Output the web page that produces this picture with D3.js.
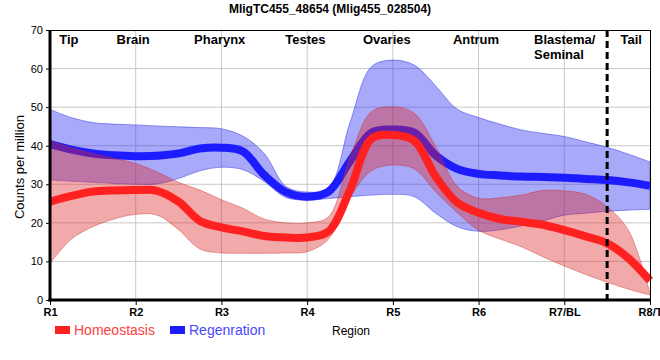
<!DOCTYPE html>
<html><head><meta charset="utf-8">
<script src="https://cdn.jsdelivr.net/npm/d3@7"></script>
<style>body{margin:0;background:#fff}svg{display:block;font-family:"Liberation Sans",Arial,sans-serif}</style>
</head><body><svg id="c" width="660" height="360"></svg>
<script>
const title = "MligTC455_48654 (Mlig455_028504)";
const regions = ["R1","R2","R3","R4","R5","R6","R7/BL","R8/T"];
const tissues = [["Tip"],["Brain"],["Pharynx"],["Testes"],["Ovaries"],["Antrum"],["Blastema/","Seminal"],["Tail"]];
const tissuePos = [1.22,1.97,2.98,3.98,4.93,5.97,6.9,7.78];
const yTicks = [0,10,20,30,40,50,60,70];
const pos = [1,1.25,1.5,1.75,2,2.25,2.5,2.75,3,3.25,3.5,3.75,4,4.25,4.5,4.75,5,5.25,5.5,5.75,6,6.25,6.5,6.75,7,7.25,7.5,7.75,8];
const regMean = [40.4,39.0,38.0,37.5,37.3,37.4,38.0,39.3,39.5,38.5,32.4,28.0,26.8,28.1,36.0,43.4,44.2,43.4,37.5,34.0,32.7,32.3,32.0,31.9,31.7,31.4,31.1,30.5,29.6];
const regUpper = [49.4,47.3,46.0,45.6,45.4,45.1,44.9,44.7,44.4,42.5,38.0,29.5,28.0,29.0,46.0,60.5,62.2,60.9,55.5,49.5,47.3,45.6,44.1,43.2,42.4,41.0,39.6,37.8,35.8];
const regLower = [31.1,30.8,30.5,30.2,30.0,30.1,31.5,33.5,34.4,33.8,30.7,26.6,25.9,26.3,26.8,27.2,27.4,26.8,22.5,19.0,17.8,18.2,19.2,20.5,22.0,22.5,23.0,23.3,23.5];
const homMean = [25.5,27.0,28.1,28.4,28.5,28.3,25.5,20.5,18.8,17.8,16.6,16.2,16.2,17.8,28.5,41.8,42.8,41.3,32.0,25.3,22.6,21.0,20.3,19.5,18.1,16.5,14.7,10.8,5.0];
const homUpper = [41.3,39.5,38.0,36.7,35.4,33.2,30.5,28.5,26.0,23.8,21.0,20.0,20.0,21.6,37.0,48.8,50.1,48.4,39.8,29.5,26.4,26.5,27.2,28.4,28.3,27.4,24.2,18.0,1.7];
const homLower = [9.5,15.8,19.0,21.0,22.2,22.0,18.2,13.2,12.2,12.1,12.1,12.2,12.5,15.8,26.5,33.5,35.0,34.0,28.0,22.7,18.1,15.8,13.8,11.2,8.8,6.6,4.6,2.8,1.3];
const legendNames = ["Homeostasis","Regenration"];

const svg = d3.select("#c");
const L=50,R=650,T=30,B=300;
const x = d3.scaleLinear().domain([1,8]).range([L,R]);
const y = d3.scaleLinear().domain([0,70]).range([B,T]);

// grid
svg.append("g").selectAll("line").data(yTicks.slice(1,-1)).join("line")
  .attr("x1",L).attr("x2",R).attr("y1",d=>y(d)).attr("y2",d=>y(d))
  .attr("stroke","#c8c8c8").attr("stroke-width",1);
svg.append("g").selectAll("line").data(d3.range(2,8)).join("line")
  .attr("x1",d=>x(d)).attr("x2",d=>x(d)).attr("y1",T).attr("y2",B)
  .attr("stroke","#c8c8c8").attr("stroke-width",1);

const curve = d3.curveCatmullRom.alpha(0.5);
function band(up,lo){return d3.area().curve(curve).x((d,i)=>x(pos[i])).y0((d,i)=>y(lo[i])).y1((d,i)=>y(up[i]))(pos);}
function line(v){return d3.line().curve(curve).x((d,i)=>x(pos[i])).y((d,i)=>y(v[i]))(pos);}

const blue="#1c1cff", red="#ff2020";
svg.append("path").attr("d",band(regUpper,regLower)).attr("fill","rgba(40,40,240,0.4)").attr("stroke","rgba(40,40,230,0.45)").attr("stroke-width",1);
svg.append("path").attr("d",line(regMean)).attr("fill","none").attr("stroke",blue).attr("stroke-width",8);
svg.append("path").attr("d",band(homUpper,homLower)).attr("fill","rgba(220,40,40,0.4)").attr("stroke","rgba(200,40,40,0.4)").attr("stroke-width",1);
svg.append("path").attr("d",line(homMean)).attr("fill","none").attr("stroke",red).attr("stroke-width",8);

// frame
svg.append("line").attr("x1",L).attr("x2",R).attr("y1",T+0.5).attr("y2",T+0.5).attr("stroke","#000");
svg.append("line").attr("x1",R+0.5).attr("x2",R+0.5).attr("y1",T).attr("y2",B).attr("stroke","#000");
// dashed divider
svg.append("line").attr("x1",x(7.5)).attr("x2",x(7.5)).attr("y1",T).attr("y2",B+5)
  .attr("stroke","#000").attr("stroke-width",3).attr("stroke-dasharray","7,4");

// axes
const yAxis = svg.append("g").attr("transform",`translate(${L},0)`)
  .call(d3.axisLeft(y).tickValues(yTicks).tickSize(4).tickPadding(3));
yAxis.select(".domain").remove();
yAxis.selectAll("text").attr("font-size",11).attr("fill","#000").attr("font-family","Liberation Sans, Arial");
svg.append("line").attr("x1",L).attr("x2",L).attr("y1",T).attr("y2",B+1.5).attr("stroke","#000").attr("stroke-width",3);

const xAxis = svg.append("g").attr("transform",`translate(0,${B})`)
  .call(d3.axisBottom(x).tickValues(d3.range(1,9)).tickFormat((d,i)=>regions[i]).tickSize(5).tickPadding(3));
xAxis.select(".domain").remove();
xAxis.selectAll("text").attr("font-size",11).attr("font-weight","bold").attr("fill","#000").attr("font-family","Liberation Sans, Arial");
svg.append("line").attr("x1",L-1.5).attr("x2",R+1).attr("y1",B).attr("y2",B).attr("stroke","#000").attr("stroke-width",3);

// tissue labels
tissues.forEach((t,i)=>{
  const tx = svg.append("text").attr("x",x(tissuePos[i])).attr("y",44).attr("font-size",13).attr("font-weight","bold")
    .attr("text-anchor",t.length>1?"start":"middle").attr("fill","#000");
  t.forEach((s,j)=>tx.append("tspan").attr("x",t.length>1?534:x(tissuePos[i])).attr("dy",j?15:0).text(s));
});

// title
svg.append("text").attr("x",330).attr("y",13).attr("text-anchor","middle").attr("font-size",12).attr("font-weight","bold").text(title);
// axis titles
svg.append("text").attr("transform","translate(24,167) rotate(-90)").attr("text-anchor","middle").attr("font-size",13).text("Counts per million");
svg.append("text").attr("x",351).attr("y",335).attr("text-anchor","middle").attr("font-size",12).text("Region");

// legend
const leg=[{c:red,x:55},{c:blue,x:170}];
leg.forEach((l,i)=>{
  svg.append("rect").attr("x",l.x).attr("y",326).attr("width",15).attr("height",8).attr("fill",l.c);
  svg.append("text").attr("x",l.x+19).attr("y",335).attr("font-size",14).attr("fill",i?"#4848ff":"#ff4040").text(legendNames[i]);
});
</script></body></html>
